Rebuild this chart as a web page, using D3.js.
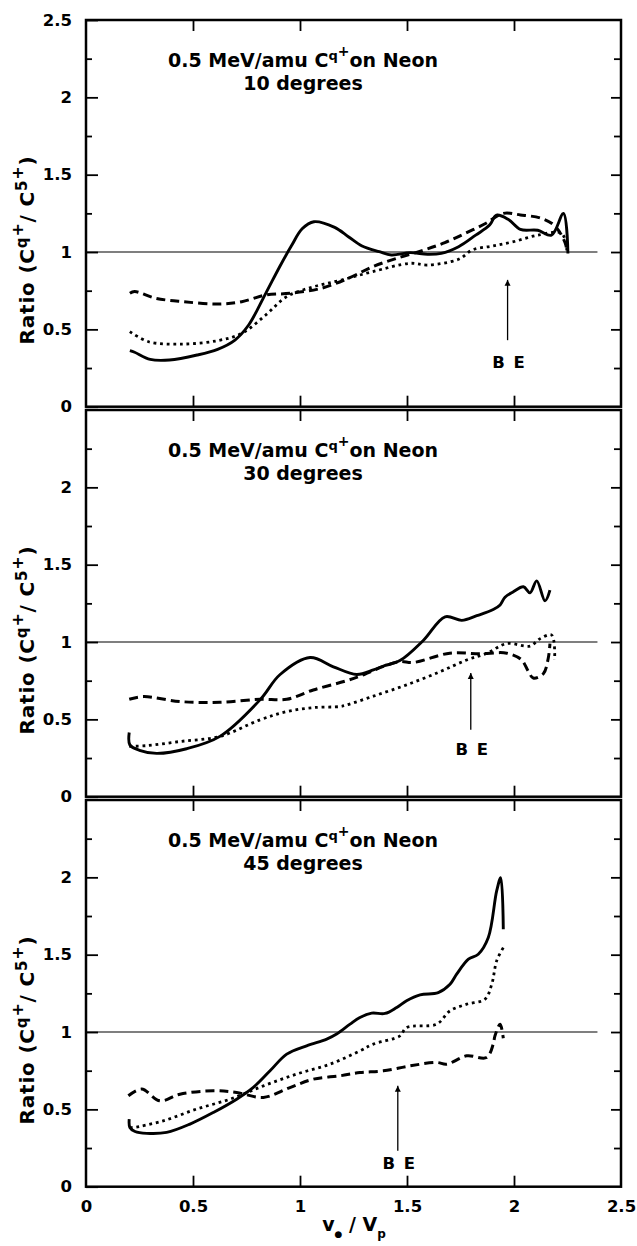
<!DOCTYPE html>
<html>
<head>
<meta charset="utf-8">
<script src="https://cdn.jsdelivr.net/npm/d3@7"></script>
<style>
  html, body { margin: 0; padding: 0; background: #fff; }
  svg { display: block; }
  text { font-family: "DejaVu Sans", "Liberation Sans", sans-serif; font-weight: bold; fill: #000; }
</style>
</head>
<body>
<svg id="chart" width="637" height="1246"></svg>
<script>
// ---------------- data ----------------
const xTicks = [0, 0.5, 1, 1.5, 2, 2.5];
const yTicksTop = [0, 0.5, 1, 1.5, 2, 2.5];
const yTicksOther = [0, 0.5, 1, 1.5, 2];
const yMinor = [0.25, 0.75, 1.25, 1.75, 2.25];
const panelAngles = ["10 degrees", "30 degrees", "45 degrees"];
const refLineEnd = 2.39;

// 10 degrees
const solid10 = [[0.205,0.362],[0.227,0.352],[0.30,0.306],[0.39,0.302],[0.519,0.334],[0.615,0.371],[0.696,0.431],[0.76,0.528],[0.84,0.733],[0.905,0.905],[0.96,1.04],[1.01,1.15],[1.065,1.196],[1.162,1.159],[1.226,1.099],[1.29,1.039],[1.371,1.002],[1.427,0.981],[1.515,0.996],[1.596,0.985],[1.66,0.991],[1.741,1.034],[1.821,1.109],[1.886,1.174],[1.918,1.238],[1.974,1.21],[2.03,1.146],[2.111,1.141],[2.175,1.109],[2.231,1.249],[2.252,0.991]];
const dashed10 = [[0.205,0.733],[0.227,0.744],[0.326,0.701],[0.454,0.679],[0.615,0.664],[0.728,0.679],[0.84,0.722],[0.953,0.733],[1.098,0.765],[1.226,0.83],[1.339,0.905],[1.451,0.959],[1.58,1.013],[1.677,1.061],[1.773,1.121],[1.869,1.186],[1.95,1.25],[2.03,1.24],[2.127,1.218],[2.191,1.169],[2.24,1.056],[2.247,1.0]];
const dotted10 = [[0.205,0.485],[0.293,0.42],[0.454,0.405],[0.615,0.427],[0.728,0.474],[0.84,0.593],[0.937,0.711],[1.065,0.776],[1.194,0.819],[1.339,0.873],[1.515,0.927],[1.596,0.916],[1.741,0.953],[1.805,1.013],[1.901,1.039],[1.998,1.067],[2.111,1.109],[2.223,1.12],[2.247,1.01]];

// 30 degrees
const solid30 = [[0.202,0.415],[0.205,0.335],[0.25,0.30],[0.33,0.28],[0.47,0.31],[0.626,0.39],[0.813,0.626],[0.907,0.79],[1.047,0.90],[1.156,0.84],[1.265,0.79],[1.343,0.82],[1.39,0.845],[1.467,0.88],[1.576,1.01],[1.678,1.163],[1.756,1.14],[1.826,1.17],[1.903,1.21],[1.935,1.24],[1.958,1.29],[1.997,1.325],[2.044,1.357],[2.075,1.318],[2.106,1.395],[2.145,1.266],[2.168,1.335]];
const dashed30 = [[0.202,0.63],[0.268,0.647],[0.44,0.615],[0.626,0.61],[0.813,0.63],[0.938,0.63],[1.062,0.69],[1.218,0.75],[1.30,0.79],[1.39,0.842],[1.467,0.874],[1.53,0.868],[1.70,0.928],[1.84,0.924],[1.966,0.928],[2.035,0.885],[2.067,0.81],[2.09,0.767],[2.137,0.795],[2.16,0.895],[2.168,0.99]];
const dotted30 = [[0.202,0.325],[0.284,0.33],[0.44,0.357],[0.626,0.39],[0.813,0.497],[0.938,0.55],[1.062,0.576],[1.187,0.583],[1.218,0.593],[1.343,0.65],[1.498,0.723],[1.654,0.808],[1.779,0.884],[1.872,0.927],[1.966,0.99],[2.075,0.974],[2.12,1.02],[2.176,1.045],[2.19,0.884]];

// 45 degrees
const solid45 = [[0.202,0.437],[0.205,0.383],[0.229,0.357],[0.284,0.345],[0.377,0.351],[0.486,0.405],[0.595,0.48],[0.704,0.566],[0.782,0.642],[0.86,0.749],[0.938,0.857],[1.031,0.911],[1.125,0.954],[1.171,0.987],[1.234,1.051],[1.28,1.094],[1.335,1.122],[1.397,1.12],[1.452,1.159],[1.498,1.202],[1.561,1.24],[1.646,1.255],[1.701,1.309],[1.732,1.374],[1.787,1.471],[1.833,1.503],[1.88,1.611],[1.919,1.912],[1.938,1.998],[1.95,1.665]];
const dashed45 = [[0.198,0.588],[0.26,0.631],[0.346,0.555],[0.439,0.598],[0.595,0.62],[0.704,0.609],[0.829,0.577],[0.953,0.641],[1.062,0.695],[1.187,0.717],[1.28,0.738],[1.389,0.749],[1.514,0.781],[1.639,0.803],[1.685,0.792],[1.779,0.846],[1.872,0.835],[1.903,0.922],[1.911,0.975],[1.935,1.05],[1.95,0.96]];
const dotted45 = [[0.205,0.383],[0.221,0.383],[0.361,0.426],[0.517,0.502],[0.673,0.566],[0.829,0.652],[0.984,0.728],[1.14,0.792],[1.28,0.878],[1.343,0.922],[1.467,0.975],[1.498,1.029],[1.639,1.051],[1.701,1.137],[1.779,1.18],[1.864,1.212],[1.896,1.309],[1.919,1.46],[1.95,1.546]];

// BE annotation (x position, arrow tip, arrow tail, label baseline) per panel
const beX = [1.97, 1.798, 1.457];
const beArrowTip = [0.82, 0.80, 0.652];
const beArrowTail = [0.43, 0.433, 0.233];
const beLabelY = [0.25, 0.27, 0.114];

// ---------------- layout ----------------
const svg = d3.select("#chart");
const left = 86, right = 621;
const panelTops = [20, 410, 800];
const panelH = 386.7;

const x = d3.scaleLinear().domain([0, 2.5]).range([left, right]);

const seriesByPanel = [
  [solid10, dashed10, dotted10],
  [solid30, dashed30, dotted30],
  [solid45, dashed45, dotted45]
];
const seriesStyle = [
  { w: 2.9, dash: null },
  { w: 3.0, dash: "9,5" },
  { w: 2.8, dash: "2.8,3.8" }
];

svg.append("defs").append("marker")
  .attr("id", "arrowhead").attr("viewBox", "0 0 10 10")
  .attr("refX", 10).attr("refY", 5)
  .attr("markerWidth", 6).attr("markerHeight", 10)
  .attr("markerUnits", "userSpaceOnUse")
  .attr("orient", "auto")
  .append("path").attr("d", "M0,0 L10,5 L0,10 Z").attr("fill", "#000");

panelTops.forEach((top, i) => {
  const y = d3.scaleLinear().domain([0, 2.5]).range([top + panelH, top]);
  const g = svg.append("g");

  // left axis with major ticks + labels
  const labelTicks = i === 0 ? yTicksTop : yTicksOther;
  const la = g.append("g").attr("transform", `translate(${left},0)`)
    .call(d3.axisLeft(y).tickValues(labelTicks).tickSizeInner(-12).tickSizeOuter(0).tickPadding(14).tickFormat(d => String(d)));
  la.select(".domain").remove();
  la.selectAll("text").attr("font-size", 16.5).attr("font-family", "DejaVu Sans").attr("font-weight", "bold");
  la.selectAll("line").attr("stroke", "#000").attr("stroke-width", 1.8);
  const lm = g.append("g").attr("transform", `translate(${left},0)`)
    .call(d3.axisLeft(y).tickValues(yMinor).tickSizeInner(-6).tickSizeOuter(0).tickFormat(""));
  lm.select(".domain").remove();
  lm.selectAll("line").attr("stroke", "#000").attr("stroke-width", 1.8);

  // right axis ticks
  const ra = g.append("g").attr("transform", `translate(${right},0)`)
    .call(d3.axisRight(y).tickValues([0.5, 1, 1.5, 2]).tickSizeInner(-10).tickSizeOuter(0).tickFormat(""));
  ra.select(".domain").remove();
  ra.selectAll("line").attr("stroke", "#000").attr("stroke-width", 1.8);
  const rm = g.append("g").attr("transform", `translate(${right},0)`)
    .call(d3.axisRight(y).tickValues(yMinor).tickSizeInner(-7).tickSizeOuter(0).tickFormat(""));
  rm.select(".domain").remove();
  rm.selectAll("line").attr("stroke", "#000").attr("stroke-width", 1.8);

  // x ticks bottom and top (inward)
  const innerX = xTicks.filter(v => v > 0 && v < 2.5);
  const ba = g.append("g").attr("transform", `translate(0,${top + panelH})`)
    .call(d3.axisBottom(x).tickValues(i === 2 ? xTicks : innerX).tickSizeInner(-11).tickSizeOuter(0).tickPadding(14).tickFormat(i === 2 ? (d => String(d)) : ""));
  ba.select(".domain").remove();
  ba.selectAll("line").attr("stroke", "#000").attr("stroke-width", 1.8);
  ba.selectAll("line").filter(d => d === 0 || d === 2.5).remove();
  ba.selectAll("text").attr("font-size", 16.5).attr("font-family", "DejaVu Sans").attr("font-weight", "bold");
  const ta = g.append("g").attr("transform", `translate(0,${top})`)
    .call(d3.axisTop(x).tickValues(innerX).tickSizeInner(-11).tickSizeOuter(0).tickFormat(""));
  ta.select(".domain").remove();
  ta.selectAll("line").attr("stroke", "#000").attr("stroke-width", 1.8);

  // frame
  g.append("rect").attr("x", left).attr("y", top).attr("width", right - left).attr("height", panelH)
    .attr("fill", "none").attr("stroke", "#000").attr("stroke-width", 2.5);

  // reference line at ratio = 1
  g.append("line").attr("x1", x(0)).attr("x2", x(refLineEnd)).attr("y1", y(1)).attr("y2", y(1))
    .attr("stroke", "#000").attr("stroke-width", 1.1);

  // series
  const line = d3.line().x(d => x(d[0])).y(d => y(d[1])).curve(d3.curveCatmullRom.alpha(0.5));
  seriesByPanel[i].forEach((data, k) => {
    const st = seriesStyle[k];
    const p = g.append("path").datum(data).attr("d", line)
      .attr("fill", "none").attr("stroke", "#000").attr("stroke-width", st.w)
      .attr("stroke-linejoin", "round");
    if (st.dash) p.attr("stroke-dasharray", st.dash);
  });

  // BE arrow
  g.append("line").attr("x1", x(beX[i])).attr("x2", x(beX[i]))
    .attr("y1", y(beArrowTail[i])).attr("y2", y(beArrowTip[i]))
    .attr("stroke", "#000").attr("stroke-width", 1.3).attr("marker-end", "url(#arrowhead)");
  g.append("text").attr("x", x(beX[i]) + 1).attr("y", y(beLabelY[i]))
    .attr("text-anchor", "middle").attr("font-size", 16.5).style("word-spacing", "3px")
    .text("B E");

  // title
  const t1 = g.append("text").attr("x", 303).attr("y", top + 47).attr("text-anchor", "middle").attr("font-size", 19);
  t1.append("tspan").text("0.5 MeV/amu C");
  t1.append("tspan").attr("font-size", 13).attr("dy", -7).text("q");
  t1.append("tspan").attr("font-size", 14).attr("dy", -4).text("+");
  t1.append("tspan").attr("dy", 11).text("on Neon");
  g.append("text").attr("x", 303).attr("y", top + 69.5).attr("text-anchor", "middle").attr("font-size", 19)
    .text(panelAngles[i]);

  // y-axis label
  const yl = g.append("text").attr("transform", `translate(34,${top + 230}) rotate(-90)`)
    .attr("text-anchor", "middle").attr("font-size", 20).style("letter-spacing", "0.8px");
  yl.append("tspan").text("Ratio (C");
  yl.append("tspan").attr("font-size", 15).attr("dy", -7).text("q");
  yl.append("tspan").attr("font-size", 16).attr("dy", -4).text("+");
  yl.append("tspan").attr("dy", 11).text("/ C");
  yl.append("tspan").attr("font-size", 15).attr("dy", -7).text("5");
  yl.append("tspan").attr("font-size", 16).attr("dy", -4).text("+");
  yl.append("tspan").attr("dy", 11).text(")");
});

// x-axis title
const xt = svg.append("text").attr("x", 354).attr("y", 1231).attr("text-anchor", "middle").attr("font-size", 19);
xt.append("tspan").text("v");
xt.append("tspan").attr("font-size", 9).attr("dy", 6).text("\u25CF");
xt.append("tspan").attr("dy", -6).text(" / V");
xt.append("tspan").attr("font-size", 12).attr("dy", 7).text("p");
</script>
</body>
</html>
